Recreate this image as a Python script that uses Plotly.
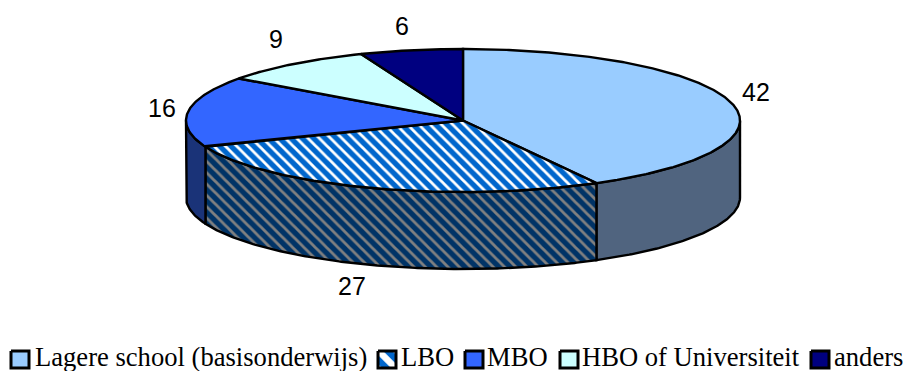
import numpy as np
import plotly.graph_objects as go

categories = ["Lagere school (basisonderwijs)", "LBO", "MBO", "HBO of Universiteit", "anders"]
values = [42, 27, 16, 9, 6]
top_colors = ["#99CCFF", "#0066CC", "#3366FF", "#CCFFFF", "#000080"]
wall_colors = ["#50647F", "#003366", "#1A3378", "#667F7F", "#000040"]

# projection of the pie (pixels)
CX, CY, RX, RY, DEPTH = 463, 120.5, 277, 71.5, 77
LABEL_XY = [(756, 95), (352, 289), (162, 111), (276, 42), (402, 29)]
SWATCH_X = [11, 378, 465, 560, 811]
TEXT_X = [35, 401, 487, 582, 834]


def arc(a0, a1, dy=0.0):
    t = np.radians(np.linspace(a0, a1, max(2, int(abs(a1 - a0) * 2))))
    return CX + RX * np.sin(t), CY - RY * np.cos(t) + dy


fig = go.Figure()
frac = np.cumsum([0] + values) / sum(values) * 360
ln = dict(color="black", width=2.4)


def patt(i, top=True):
    if i != 1:
        return None
    if top:
        return dict(shape="\\", fgcolor="white", bgcolor="#0066CC", size=8, solidity=0.35, fillmode="replace")
    return dict(shape="\\", fgcolor="#808080", bgcolor="#003366", size=8, solidity=0.35, fillmode="replace")


# side walls (only the front half is visible)
for i in range(len(values)):
    a0, a1 = max(frac[i], 90), min(frac[i + 1], 270)
    if a0 >= a1:
        continue
    x0, y0 = arc(a0, a1)
    x1, y1 = arc(a1, a0, DEPTH)
    kw = dict(fillpattern=patt(i, False)) if i == 1 else {}
    fig.add_trace(go.Scatter(x=np.r_[x0, x1, x0[0]], y=np.r_[y0, y1, y0[0]], mode="lines", fill="toself",
                             fillcolor=wall_colors[i], line=ln, hoverinfo="skip", showlegend=False, **kw))

# top faces
for i in range(len(values)):
    x0, y0 = arc(frac[i], frac[i + 1])
    kw = dict(fillpattern=patt(i)) if i == 1 else {}
    fig.add_trace(go.Scatter(x=np.r_[CX, x0, CX], y=np.r_[CY, y0, CY], mode="lines", fill="toself",
                             fillcolor=top_colors[i], line=ln, hoverinfo="skip", showlegend=False, **kw))

# value labels
fig.add_trace(go.Scatter(x=[p[0] for p in LABEL_XY], y=[p[1] for p in LABEL_XY], mode="text",
                         text=[str(v) for v in values], textposition="middle center",
                         textfont=dict(family="Liberation Sans", size=25, color="black"),
                         hoverinfo="skip", showlegend=False))

# legend
SW, SH, SY = 18, 17, 351
for i, name in enumerate(categories):
    x = SWATCH_X[i]
    kw = dict(fillpattern=dict(shape="\\", fgcolor="#0066CC", bgcolor="white", size=13, solidity=0.5, fillmode="replace")) if i == 1 else {}
    fig.add_trace(go.Scatter(x=[x, x + SW, x + SW, x, x], y=[SY, SY, SY + SH, SY + SH, SY], mode="lines", fill="toself",
                             fillcolor=top_colors[i], line=dict(color="black", width=3), hoverinfo="skip", showlegend=False, **kw))
    fig.add_trace(go.Scatter(x=[TEXT_X[i]], y=[359], mode="text", text=[name], textposition="middle right",
                             textfont=dict(family="Liberation Serif", size=26.6, color="black"),
                             hoverinfo="skip", showlegend=False))

fig.update_layout(width=906, height=371, margin=dict(l=0, r=0, t=0, b=0), paper_bgcolor="white", plot_bgcolor="white",
                  xaxis=dict(range=[0, 906], visible=False, fixedrange=True),
                  yaxis=dict(range=[371, 0], visible=False, fixedrange=True))
fig.write_html("out.html", config={"displayModeBar": False},
               post_script="document.body.style.margin='0';document.body.style.overflow='hidden';")
